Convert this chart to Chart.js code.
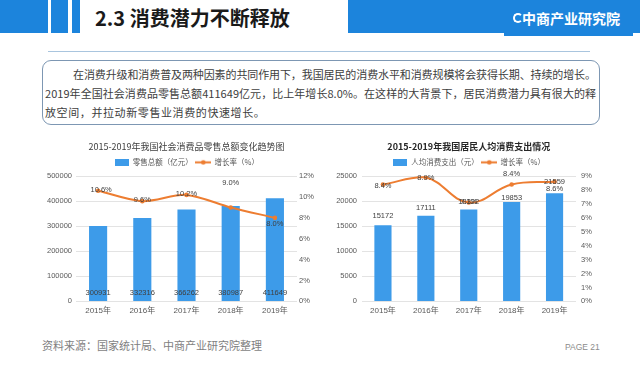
<!DOCTYPE html>
<html><head><meta charset="utf-8">
<script src="https://cdn.jsdelivr.net/npm/chart.js@4"></script>
<style>
html,body{margin:0;padding:0;background:#fff;width:640px;height:369px;overflow:hidden;font-family:'Noto Sans CJK SC',sans-serif;}
.abs{position:absolute;}
.blue{background:#1c84dc;}
.txt{font-size:11px;line-height:19px;color:#404040;white-space:nowrap;}
canvas{position:absolute;}
</style></head><body>
<div class="abs blue" style="left:0;top:0;width:48px;height:33px"></div>
<div class="abs blue" style="left:51px;top:0;width:17px;height:33px"></div>
<div class="abs blue" style="left:72px;top:0;width:8px;height:33px"></div>
<div class="abs" style="left:95px;top:4px;font-size:20px;font-weight:bold;color:#1a1a1a;line-height:28px;white-space:nowrap">2.3 消费潜力不断释放</div>
<div class="abs blue" style="left:348px;top:0;width:292px;height:33px"></div>
<div class="abs blue" style="left:504px;top:33px;width:129px;height:3px"></div>
<div class="abs" style="left:513px;top:13px;width:6px;height:6px;border:2px solid #fff;border-right-color:transparent;border-radius:50%"></div>
<div class="abs" style="left:522px;top:8px;font-size:14px;font-weight:bold;color:#fff;line-height:20px;white-space:nowrap">中商产业研究院</div>
<div class="abs" style="left:48px;top:51px;width:542px;height:1px;background:#a9c5de"></div>

<div class="abs" style="left:42px;top:60px;width:556px;height:63px;border:1px solid #7d97b3;border-radius:9px"></div>
<div class="abs txt fit" data-w="523" style="left:73px;top:64.5px">在消费升级和消费普及两种因素的共同作用下，我国居民的消费水平和消费规模将会获得长期、持续的增长。</div>
<div class="abs txt fit" data-w="551" style="left:45px;top:83.5px">2019年全国社会消费品零售总额411649亿元，比上年增长8.0%。在这样的大背景下，居民消费潜力具有很大的释</div>
<div class="abs txt" style="left:45px;top:102.5px;letter-spacing:0.6px">放空间，并拉动新零售业消费的快速增长。</div>

<canvas id="c1" width="300" height="187" style="left:20px;top:134px"></canvas>
<canvas id="c2" width="280" height="187" style="left:325px;top:134px"></canvas>

<div class="abs" style="left:42px;top:336px;font-size:11px;line-height:18px;color:#7f7f7f;white-space:nowrap">资料来源：国家统计局、中商产业研究院整理</div>
<div class="abs" style="left:565px;top:341px;font-size:8.5px;line-height:12px;color:#8c8c8c;font-family:'Liberation Sans',sans-serif;white-space:nowrap">PAGE 21</div>

<script>
// ---- data ----
const years = ['2015年','2016年','2017年','2018年','2019年'];
const retailTotal = [300931, 332316, 366262, 380987, 411649];
const retailGrowth = [10.6, 9.6, 10.2, 9.0, 8.0];
const perCapitaSpend = [15172, 17111, 18322, 19853, 21559];
const perCapitaGrowth = [8.4, 8.9, 7.1, 8.4, 8.6];
const retailAxisTicks = [0, 100000, 200000, 300000, 400000, 500000];
const retailRateTicks = [0, 2, 4, 6, 8, 10, 12];
const spendAxisTicks = [0, 5000, 10000, 15000, 20000, 25000];
const spendRateTicks = [0, 1, 2, 3, 4, 5, 6, 7, 8, 9];

// fit paragraph lines to their measured widths
document.querySelectorAll('.fit').forEach(el => {
  const target = parseFloat(el.dataset.w);
  const n = el.textContent.length;
  const w = el.getBoundingClientRect().width;
  el.style.letterSpacing = ((target - w) / (n - 1)) + 'px';
});

const BAR = '#3d9be9', LINE = '#ed7d31';
const NUMFONT = "'Liberation Sans','Noto Sans CJK SC',sans-serif";
const CJKFONT = "'Noto Sans CJK SC',sans-serif";

function icons(){
  const b = document.createElement('canvas'); b.width = 14; b.height = 7;
  const bc = b.getContext('2d'); bc.fillStyle = BAR; bc.fillRect(0,0,14,7);
  const l = document.createElement('canvas'); l.width = 16; l.height = 7;
  const lc = l.getContext('2d'); lc.strokeStyle = LINE; lc.lineWidth = 2;
  lc.beginPath(); lc.moveTo(0,3.5); lc.lineTo(16,3.5); lc.stroke();
  lc.fillStyle = LINE; lc.beginPath(); lc.arc(8,3.5,2.3,0,Math.PI*2); lc.fill();
  return [b, l];
}

const valueLabels = {
  id: 'valueLabels',
  afterDatasetsDraw(chart, args, opts){
    const ctx = chart.ctx;
    ctx.save();
    ctx.font = '7.5px ' + NUMFONT;
    ctx.fillStyle = '#404040';
    ctx.textAlign = 'center';
    ctx.textBaseline = 'middle';
    chart.data.datasets.forEach((ds, i) => {
      const meta = chart.getDatasetMeta(i);
      const cfg = opts[ds.type];
      if (!cfg) return;
      meta.data.forEach((el, j) => {
        const v = ds.data[j];
        const ref = (ds.type === 'bar' && cfg.anchor === 'base') ? el.base : el.y;
        const txt = ds.type === 'bar' ? String(v) : v.toFixed(1) + '%';
        ctx.fillText(txt, el.x + (cfg.dx ? cfg.dx[j] : 0), ref + cfg.dy[j]);
      });
    });
    ctx.restore();
  }
};

function build(id, o){
  const ic = icons();
  return new Chart(document.getElementById(id), {
    data: {
      labels: years,
      datasets: [
        { type: 'bar', label: o.barLabel, data: o.bars, backgroundColor: BAR, borderWidth: 0,
          barPercentage: o.barPct, categoryPercentage: 1, yAxisID: 'y', order: 2 },
        { type: 'line', label: '增长率（%）', data: o.rates, borderColor: LINE, backgroundColor: LINE,
          borderWidth: 2, pointRadius: 2.3, pointHoverRadius: 2.3, pointBackgroundColor: LINE, pointBorderWidth: 0,
          tension: o.tension, yAxisID: 'y1', order: 1 }
      ]
    },
    options: {
      responsive: false, maintainAspectRatio: false, animation: false,
      layout: { padding: 0 },
      plugins: {
        title: { display: true, text: o.title, fullSize: false, color: o.titleColor,
          font: { family: CJKFONT, size: 9, weight: o.titleWeight }, padding: { top: 7.3, bottom: 3.5 } },
        legend: { display: true, fullSize: false,
          labels: { usePointStyle: true, pointStyleWidth: 15, boxHeight: 7, padding: 3, color: '#595959',
            font: { family: CJKFONT, size: 7.5 },
            sort: (a, b) => a.datasetIndex - b.datasetIndex,
            generateLabels(chart){
              const items = Chart.defaults.plugins.legend.labels.generateLabels(chart);
              items.forEach(it => { it.pointStyle = ic[it.datasetIndex]; });
              return items;
            } } },
        tooltip: { enabled: false },
        valueLabels: o.labels
      },
      scales: {
        x: { grid: { display: false, drawTicks: false }, border: { display: false },
          ticks: { color: '#595959', padding: 5, font: { family: NUMFONT, size: 8 } } },
        y: { position: 'left', min: o.yTicks[0], max: o.yTicks[o.yTicks.length-1],
          afterBuildTicks(s){ s.ticks = o.yTicks.map(v => ({ value: v })); },
          afterFit(s){ s.width = o.yWidth; },
          grid: { color: '#e3e3e3', drawTicks: false }, border: { display: false },
          ticks: { color: '#595959', padding: o.yPad, font: { family: NUMFONT, size: 7.5 },
            callback: v => String(v) } },
        y1: { position: 'right', min: o.rTicks[0], max: o.rTicks[o.rTicks.length-1],
          afterBuildTicks(s){ s.ticks = o.rTicks.map(v => ({ value: v })); },
          afterFit(s){ s.width = o.rWidth; },
          grid: { display: false, drawTicks: false }, border: { display: false },
          ticks: { color: '#595959', padding: o.rPad, font: { family: NUMFONT, size: 7.5 },
            callback: v => v + '%' } }
      }
    },
    plugins: [valueLabels]
  });
}

build('c1', {
  title: '2015-2019年我国社会消费品零售总额变化趋势图', titleColor: '#404040', titleWeight: 'normal',
  barLabel: '零售总额（亿元）', bars: retailTotal, rates: retailGrowth, barPct: 0.41, tension: 0.3,
  yTicks: retailAxisTicks, rTicks: retailRateTicks, yWidth: 56, rWidth: 23, yPad: 4, rPad: 2,
  labels: { bar: { anchor: 'base', dy: [-7.7, -7.7, -7.7, -7.7, -7.7] },
            line: { dx: [3, 0, 0, 0, 0], dy: [-0.5, -1.5, -0.8, -24, 6.5] } }
});
build('c2', {
  title: '2015-2019年我国居民人均消费支出情况', titleColor: '#262626', titleWeight: 'bold',
  barLabel: '人均消费支出（元）', bars: perCapitaSpend, rates: perCapitaGrowth, barPct: 0.4, tension: 0.4,
  yTicks: spendAxisTicks, rTicks: spendRateTicks, yWidth: 36.5, rWidth: 29, yPad: 4.5, rPad: 5,
  labels: { bar: { anchor: 'top', dy: [-9, -8, -8, -4, -11.5] },
            line: { dy: [1, 0, -1, -11, 7.5] } }
});
</script>
</body></html>
